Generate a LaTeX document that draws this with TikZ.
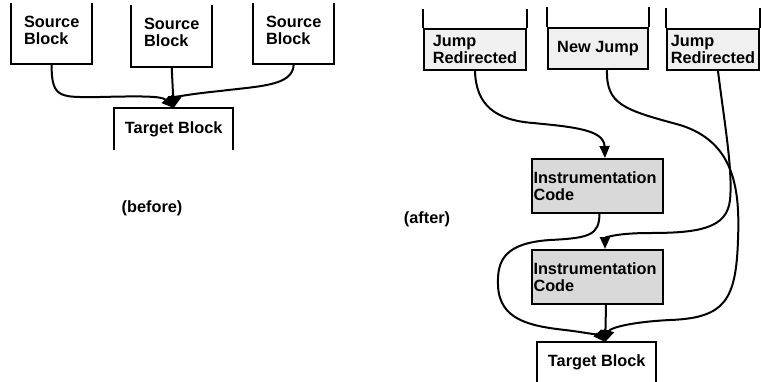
\documentclass[tikz,border=0pt]{standalone}
\usepackage{fontspec}
\setmainfont{Liberation Sans}
\usetikzlibrary{arrows.meta}
\begin{document}
\begin{tikzpicture}[x=1pt,y=-1pt,
  every node/.style={font=\fontsize{16.3}{16.8}\selectfont\bfseries},
  ln/.style={line width=2pt},
  arr/.style={ln, -{Triangle[length=12pt,width=10pt]}},
  area/.style={inner sep=0pt, anchor=north west},
  jbox/.style={area, draw, ln, fill=gray!12, align=left},
  ibox/.style={draw, ln, fill=gray!30, anchor=north west, inner sep=1.5pt, align=left}
]
\useasboundingbox (0,0) rectangle (761,381);

% ---------- before ----------
\node[area, minimum width=81pt, minimum height=61pt] (s1) at (11,3) {};
\node[area, minimum width=81pt, minimum height=62pt] (s2) at (131,5) {};
\node[area, minimum width=81pt, minimum height=61pt] (s3) at (253,3) {};
\foreach \b in {s1,s2,s3}{
  \draw[ln] (\b.north west) |- (\b.south east) -- (\b.north east);
}
\node[align=left] (s1t) at ([yshift=3pt]s1.center) {Source\\Block};
\node[align=left] (s2t) at ([yshift=4pt]s2.center) {Source\\Block};
\node[align=left] (s3t) at ([yshift=3pt]s3.center) {Source\\Block};

\node[area, minimum width=119pt, minimum height=42pt] (tg1) at (114,108) {Target Block};
\draw[ln] (tg1.south west) |- (tg1.north east) -- (tg1.south east);

\draw[arr] (s1.south) .. controls (51,100) and (62,97) .. (100,97)
           .. controls (140,96) and (162,96) .. (tg1.north);
\draw[arr] (s2.south) -- (tg1.north);
\draw[arr] (s3.south) .. controls (293,86) and (260,86) .. (220,91)
           .. controls (190,94) and (176,97) .. (tg1.north);

\node (before) at (152,208) {(before)};

% ---------- after ----------
\node (after) at (427,219) {(after)};

\node[jbox, minimum width=102pt, minimum height=41pt] (jr1) at (423,28) {Jump\\Redirected};
\node[jbox, minimum width=100pt, minimum height=41pt] (nj) at (547,27) {New Jump};
\node[jbox, minimum width=92pt, minimum height=41pt] (jr2) at (666,28) {Jump\\Redirected};
\draw[ln] (jr1.north west) -- ++(0,-19) (jr1.north east) -- ++(0,-19);
\draw[ln] (nj.north west) -- ++(0,-20) (nj.north east) -- ++(0,-20);
\draw[ln] (jr2.north west) -- ++(0,-20) (jr2.north east) -- ++(0,-20);

\node[ibox, text width=128pt, minimum height=54pt] (ic1) at (531,158) {Instrumentation\\Code};
\node[ibox, text width=128pt, minimum height=54pt] (ic2) at (531,249) {Instrumentation\\Code};

\node[area, minimum width=119pt, minimum height=40pt] (tg2) at (537,342) {Target Block};
\draw[ln] (tg2.south west) |- (tg2.north east) -- (tg2.south east);

\coordinate (in1) at ([xshift=7.5pt]ic1.north);
\coordinate (in2) at ([xshift=7.5pt]ic2.north);
\coordinate (mg) at ([xshift=8.5pt]tg2.north);

% Jump Redirected -> first instrumentation block
\draw[arr] (jr1.south) .. controls (476,105) and (495,120) .. (533,123)
           .. controls (575,127) and (604,130) .. (in1);
% New Jump -> target block
\draw[arr] ([xshift=9pt]nj.south) .. controls (606,105) and (625,110) .. (680,125)
           .. controls (735,142) and (740,190) .. (738,240)
           .. controls (736,300) and (725,318) .. (670,320)
           .. controls (630,322) and (610,328) .. (mg);
% Jump Redirected -> second instrumentation block
\draw[arr] ([xshift=5pt]jr2.south) .. controls (724,120) and (733,170) .. (730,200)
           .. controls (727,228) and (700,233) .. (650,233)
           .. controls (615,233) and (605,238) .. (in2);
% first instrumentation block -> target block
\draw[arr] ([xshift=2pt]ic1.south) .. controls (599,235) and (590,238) .. (550,240)
           .. controls (505,243) and (497,260) .. (498,285)
           .. controls (499,320) and (530,326) .. (565,330)
           .. controls (590,333) and (600,336) .. (mg);
% second instrumentation block -> target block
\draw[arr] ([xshift=8.5pt]ic2.south) -- (mg);
\end{tikzpicture}
\end{document}
